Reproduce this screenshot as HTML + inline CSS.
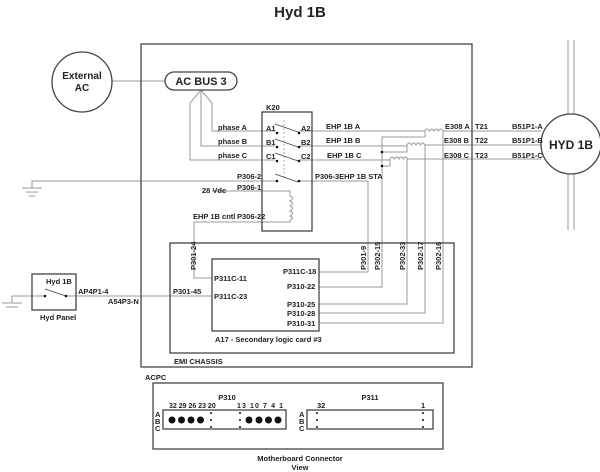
<!DOCTYPE html><html><head><style>body{margin:0;background:#fff}svg{display:block}text{font-family:"Liberation Sans",sans-serif;font-weight:bold;fill:#222}</style></head><body>
<svg width="600" height="472" viewBox="0 0 600 472" xmlns="http://www.w3.org/2000/svg">
<g fill="none" stroke="#999" stroke-width="1">
<line x1="112" y1="81" x2="165" y2="81"/>
<polyline points="201,90 212,103 212,131 275,131"/>
<polyline points="201,90 201,146 275,146"/>
<polyline points="201,90 190,103 190,160 275,160"/>
<line x1="299" y1="131" x2="425" y2="131"/>
<line x1="299" y1="146" x2="407" y2="146"/>
<line x1="299" y1="160" x2="390" y2="160"/>
<line x1="443" y1="131" x2="541" y2="131"/>
<line x1="425" y1="145" x2="541" y2="145"/>
<line x1="407" y1="159" x2="541" y2="159"/>
<path d="M425,131 q2,-4 4.5,0 q2,-4 4.5,0 q2,-4 4.5,0 q2,-4 4.5,0"/>
<path d="M407,145 q2,-4 4.5,0 q2,-4 4.5,0 q2,-4 4.5,0 q2,-4 4.5,0"/>
<path d="M390,159 q2,-4 4.5,0 q2,-4 4.5,0 q2,-4 4.5,0 q2,-4 4.25,0"/>
<polyline points="425,131 425,137 382,137 382,287 319,287"/>
<polyline points="407,145 407,152 382,152"/>
<polyline points="390,159 390,166 382,166"/>
<polyline points="443,131 443,323 319,323"/>
<polyline points="425,145 425,313 319,313"/>
<polyline points="407,159 407,304 319,304"/>
<polyline points="299,181 368,181 368,272 319,272"/>
<polyline points="277,181 32,181 32,188"/>
<line x1="22" y1="188" x2="42" y2="188"/><line x1="26" y1="192" x2="38" y2="192"/><line x1="29" y1="196" x2="35" y2="196"/>
<polyline points="212,191 290,191 290,196"/>
<path d="M290,196 q5,2 0,5 q5,2 0,5 q5,2 0,5 q5,2 0,5 q5,2 0,4"/>
<polyline points="290,220 290,222 194,222 194,278 212,278"/>
<line x1="12" y1="296" x2="45" y2="296"/>
<line x1="66" y1="296" x2="212" y2="296"/>
<line x1="2" y1="303" x2="22" y2="303"/><line x1="6" y1="307" x2="18" y2="307"/><line x1="12" y1="296" x2="12" y2="303"/>
<line x1="568" y1="40" x2="568" y2="114"/><line x1="574" y1="40" x2="574" y2="114"/>
<line x1="568" y1="174" x2="568" y2="230"/><line x1="574" y1="174" x2="574" y2="230"/>
</g>
<g fill="none" stroke="#444" stroke-width="1.3">
<rect x="141" y="44" width="331" height="323"/>
<circle cx="82" cy="82" r="30"/>
<rect x="165" y="72" width="72" height="18" rx="9"/>
<rect x="262" y="112" width="50" height="119"/>
<circle cx="571" cy="144" r="30"/>
<rect x="170" y="243" width="284" height="110"/>
<rect x="212" y="259" width="107" height="72"/>
<rect x="32" y="274" width="44" height="36"/>
<rect x="153" y="383" width="290" height="66"/>
<rect x="163" y="410" width="123" height="19"/>
<rect x="307" y="410" width="126" height="19"/>
</g>
<g stroke="#444" stroke-width="0.8" fill="none">
<line x1="275" y1="124" x2="298" y2="132"/><line x1="275" y1="139" x2="298" y2="147"/><line x1="275" y1="153" x2="298" y2="161"/><line x1="275" y1="174" x2="298" y2="182"/>
<line x1="45" y1="289" x2="66" y2="296"/>
<line x1="284" y1="120" x2="284" y2="180" stroke-dasharray="2,2" stroke="#999"/>
</g>
<g fill="#111">
<circle cx="277" cy="133" r="1.3"/><circle cx="299" cy="133" r="1.3"/><circle cx="277" cy="147" r="1.3"/><circle cx="299" cy="147" r="1.3"/><circle cx="277" cy="161" r="1.3"/><circle cx="299" cy="161" r="1.3"/><circle cx="277" cy="181" r="1.3"/><circle cx="299" cy="181" r="1.3"/>
<circle cx="382" cy="152" r="1.3"/><circle cx="382" cy="166" r="1.3"/>
<circle cx="45" cy="296" r="1.3"/><circle cx="66" cy="296" r="1.3"/>
<circle cx="211" cy="413" r="1"/><circle cx="211" cy="420" r="1"/><circle cx="211" cy="427" r="1"/><circle cx="240" cy="413" r="1"/><circle cx="240" cy="420" r="1"/><circle cx="240" cy="427" r="1"/>
<circle cx="172" cy="420" r="3.5"/><circle cx="181.5" cy="420" r="3.5"/><circle cx="191" cy="420" r="3.5"/><circle cx="200.5" cy="420" r="3.5"/>
<circle cx="249" cy="420" r="3.5"/><circle cx="259" cy="420" r="3.5"/><circle cx="268.5" cy="420" r="3.5"/><circle cx="278" cy="420" r="3.5"/>
<circle cx="317" cy="413" r="1"/><circle cx="317" cy="420" r="1"/><circle cx="317" cy="427" r="1"/><circle cx="423" cy="413" r="1"/><circle cx="423" cy="420" r="1"/><circle cx="423" cy="427" r="1"/>
</g>
<text x="300" y="17" font-size="15" text-anchor="middle">Hyd 1B</text>
<text x="82" y="79" font-size="10" text-anchor="middle">External</text>
<text x="82" y="91" font-size="10" text-anchor="middle">AC</text>
<text x="201" y="85" font-size="11" text-anchor="middle">AC BUS 3</text>
<text x="571" y="149" font-size="12" text-anchor="middle">HYD 1B</text>
<g font-size="7.5">
<text x="266" y="110" font-weight="normal">K20</text>
<text x="218" y="130">phase A</text><text x="218" y="144">phase B</text><text x="218" y="158">phase C</text>
<text x="266" y="131">A1</text><text x="266" y="145">B1</text><text x="266" y="159">C1</text>
<text x="301" y="131">A2</text><text x="301" y="145">B2</text><text x="301" y="159">C2</text>
<text x="326" y="129">EHP 1B A</text><text x="326" y="143">EHP 1B B</text><text x="327" y="158">EHP 1B C</text>
<text x="445" y="129">E308 A</text><text x="444" y="143">E308 B</text><text x="444" y="158">E308 C</text>
<text x="475" y="129">T21</text><text x="475" y="143">T22</text><text x="475" y="158">T23</text>
<text x="512" y="129">B51P1-A</text><text x="512" y="143">B51P1-B</text><text x="512" y="158">B51P1-C</text>
<text x="237" y="179">P306-2</text><text x="237" y="190">P306-1</text><text x="202" y="193">28 Vdc</text>
<text x="315" y="179">P306-3EHP 1B STA</text>
<text x="193" y="219">EHP 1B cntl</text><text x="237" y="219">P306-22</text>
<text x="214" y="281">P311C-11</text><text x="214" y="299">P311C-23</text>
<text x="283" y="274">P311C-18</text><text x="287" y="289">P310-22</text>
<text x="287" y="307">P310-25</text><text x="287" y="316">P310-28</text><text x="287" y="326">P310-31</text>
<text x="215" y="342">A17 - Secondary logic card #3</text>
<text x="174" y="364">EMI CHASSIS</text>
<text x="173" y="294">P301-45</text>
<text x="78" y="294">AP4P1-4</text><text x="108" y="304">A54P3-N</text>
<text x="46" y="284">Hyd 1B</text><text x="40" y="320">Hyd Panel</text>
<text x="145" y="380">ACPC</text>
<text x="227" y="400" text-anchor="middle">P310</text><text x="370" y="400" text-anchor="middle">P311</text>
<text x="169" y="408" font-size="7">32 29 26 23 20</text><text x="237" y="408" font-size="7" textLength="46">13 10 7  4  1</text>
<text x="317" y="408">32</text><text x="421" y="408">1</text>
<text x="155" y="417">A</text><text x="155" y="424">B</text><text x="155" y="431">C</text>
<text x="299" y="417">A</text><text x="299" y="424">B</text><text x="299" y="431">C</text>
<text x="300" y="461" text-anchor="middle">Motherboard Connector</text><text x="300" y="470" text-anchor="middle">View</text>
</g>
<g font-size="7.5">
<text transform="translate(196,270) rotate(-90)">P301-24</text>
<text transform="translate(366,270) rotate(-90)">P301-9</text>
<text transform="translate(380,270) rotate(-90)">P302-15</text>
<text transform="translate(405,270) rotate(-90)">P302-33</text>
<text transform="translate(423,270) rotate(-90)">P302-17</text>
<text transform="translate(441,270) rotate(-90)">P302-16</text>
</g>
</svg></body></html>
